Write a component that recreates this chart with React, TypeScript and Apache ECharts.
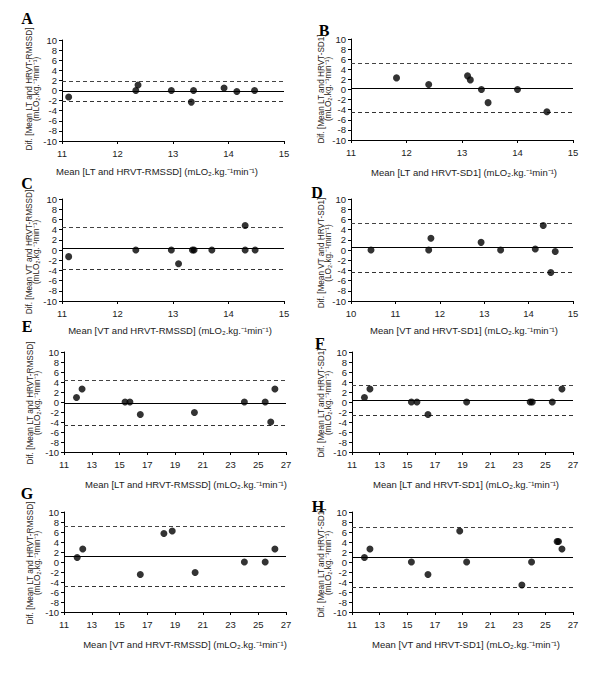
import React, { useEffect, useRef } from 'react';
import * as echarts from 'echarts';

// ---- data ----
const A_X = [11.12, 12.33, 12.37, 12.97, 13.33, 13.37, 13.92, 14.15, 14.47];
const A_Y = [-1.3, 0, 1.1, 0, -2.3, 0, 0.5, -0.2, 0];
const A_LIMITS = [-0.15, 1.8, -2.1]; // mean, upper, lower

const B_X = [11.82, 12.4, 13.1, 13.15, 13.35, 13.47, 14.0, 14.53];
const B_Y = [2.3, 1.0, 2.7, 1.9, 0, -2.6, 0, -4.4];
const B_LIMITS = [0.3, 5.1, -4.5];

const C_X = [11.12, 12.33, 12.97, 13.1, 13.35, 13.38, 13.7, 14.3, 14.3, 14.48];
const C_Y = [-1.3, 0, 0, -2.7, 0, 0, 0, 4.8, 0, 0];
const C_LIMITS = [0.3, 4.4, -3.8];

const D_X = [10.45, 11.75, 11.8, 12.93, 13.37, 14.15, 14.33, 14.5, 14.6];
const D_Y = [0, 0, 2.3, 1.5, 0, 0.2, 4.8, -4.4, -0.3];
const D_LIMITS = [0.45, 5.2, -4.3];

const E_X = [11.9, 12.3, 15.4, 15.75, 16.5, 20.4, 24.0, 25.5, 25.9, 26.2];
const E_Y = [0.9, 2.6, 0, 0, -2.5, -2.1, 0, 0, -4.0, 2.6];
const E_LIMITS = [-0.3, 4.4, -4.6];

const F_X = [11.9, 12.3, 15.3, 15.7, 16.5, 19.3, 23.9, 24.05, 25.5, 26.2];
const F_Y = [0.9, 2.6, 0, 0, -2.5, 0, 0, 0, 0, 2.6];
const F_LIMITS = [0.4, 3.3, -2.6];

const G_X = [11.95, 12.35, 16.5, 18.2, 18.8, 20.45, 24.0, 25.5, 26.2];
const G_Y = [0.9, 2.6, -2.5, 5.7, 6.2, -2.1, 0, 0, 2.6];
const G_LIMITS = [1.2, 7.2, -4.8];

const H_X = [11.9, 12.3, 15.3, 16.5, 18.8, 19.3, 23.3, 24.0, 25.85, 25.95, 26.2];
const H_Y = [0.9, 2.6, 0, -2.5, 6.2, 0, -4.6, 0, 4.1, 4.1, 2.6];
const H_LIMITS = [1.0, 7.0, -5.0];

// axis ranges [min, max, interval]
const X_RANGE_SMALL = [11, 15, 1];
const X_RANGE_D = [10, 15, 1];
const X_RANGE_WIDE = [11, 27, 2];
const Y_RANGE = [-10, 10, 2];

const UNIT = '(mLO\u2082.kg.\u207B\u00B9min\u207B\u00B9)';
const X_TITLES = {
  A: 'Mean [LT and HRVT-RMSSD] ' + UNIT,
  B: 'Mean [LT and HRVT-SD1] ' + UNIT,
  C: 'Mean [VT and HRVT-RMSSD] ' + UNIT,
  D: 'Mean [VT and HRVT-SD1] ' + UNIT,
  E: 'Mean [LT and HRVT-RMSSD] ' + UNIT,
  F: 'Mean [LT and HRVT-SD1] ' + UNIT,
  G: 'Mean [VT and HRVT-RMSSD] ' + UNIT,
  H: 'Mean [VT and HRVT-SD1] ' + UNIT,
};
const Y_TITLES = {
  A: 'Dif. [Mean LT and HRVT-RMSSD]\n' + UNIT,
  B: 'Dif. [Mean LT and HRVT-SD1]\n' + UNIT,
  C: 'Dif. [Mean VT and HRVT-RMSSD]\n' + UNIT,
  D: 'Dif. [Mean VT and HRVT-SD1]\n(LO\u2082.kg.\u207B\u00B9min\u207B\u00B9)',
  E: 'Dif. [Mean LT and HRVT-RMSSD]\n' + UNIT,
  F: 'Dif. [Mean LT and HRVT-SD1]\n' + UNIT,
  G: 'Dif. [Mean LT and HRVT-RMSSD]\n' + UNIT,
  H: 'Dif. [Mean LT and HRVT-SD1]\n' + UNIT,
};

const SANS = '"Liberation Sans", Arial, sans-serif';
const SERIF = '"Liberation Serif", "Times New Roman", serif';

const PANELS = [
  { key: 'A', xs: A_X, ys: A_Y, lim: A_LIMITS, xr: X_RANGE_SMALL, grid: { left: 62, top: 40, width: 222, height: 101 }, label: [27, 18], xt: [157, 171], yt: [33, 89] },
  { key: 'B', xs: B_X, ys: B_Y, lim: B_LIMITS, xr: X_RANGE_SMALL, grid: { left: 351, top: 39, width: 222, height: 101 }, label: [324, 30], xt: [464, 172], yt: [325, 89] },
  { key: 'C', xs: C_X, ys: C_Y, lim: C_LIMITS, xr: X_RANGE_SMALL, grid: { left: 62, top: 199, width: 222, height: 102 }, label: [27, 183], xt: [170, 330], yt: [33, 252] },
  { key: 'D', xs: D_X, ys: D_Y, lim: D_LIMITS, xr: X_RANGE_D, grid: { left: 351, top: 199, width: 222, height: 102 }, label: [317, 192], xt: [464, 330], yt: [325, 253] },
  { key: 'E', xs: E_X, ys: E_Y, lim: E_LIMITS, xr: X_RANGE_WIDE, grid: { left: 64, top: 352, width: 222, height: 100 }, label: [27, 326], xt: [186, 484], yt: [34, 403] },
  { key: 'F', xs: F_X, ys: F_Y, lim: F_LIMITS, xr: X_RANGE_WIDE, grid: { left: 352, top: 352, width: 221, height: 100 }, label: [320, 343], xt: [466, 484], yt: [325, 403] },
  { key: 'G', xs: G_X, ys: G_Y, lim: G_LIMITS, xr: X_RANGE_WIDE, grid: { left: 64, top: 512, width: 222, height: 100 }, label: [27, 493], xt: [185, 644], yt: [34, 563] },
  { key: 'H', xs: H_X, ys: H_Y, lim: H_LIMITS, xr: X_RANGE_WIDE, grid: { left: 352, top: 512, width: 221, height: 100 }, label: [318, 506], xt: [466, 644], yt: [325, 563] },
];

export default function App() {
  const ref = useRef<HTMLDivElement>(null);
  useEffect(() => {
    if (!ref.current) return;
    const chart = echarts.init(ref.current, undefined, { renderer: 'svg' });
    const axisLine = { show: true, onZero: false, lineStyle: { color: '#000', width: 1 } };
    const axisTick = { show: true, inside: false, length: 3, lineStyle: { color: '#000' } };
    const option: any = {
      animation: false,
      backgroundColor: '#fff',
      grid: PANELS.map((p) => ({ ...p.grid, containLabel: false })),
      xAxis: PANELS.map((p, i) => ({
        type: 'value',
        gridIndex: i,
        min: p.xr[0],
        max: p.xr[1],
        interval: p.xr[2],
        axisLine,
        axisTick,
        splitLine: { show: false },
        axisLabel: { color: '#222', fontSize: 9.5, fontFamily: SANS, margin: 7 },
      })),
      yAxis: PANELS.map((p, i) => ({
        type: 'value',
        gridIndex: i,
        min: Y_RANGE[0],
        max: Y_RANGE[1],
        interval: Y_RANGE[2],
        axisLine,
        axisTick,
        splitLine: { show: false },
        axisLabel: { color: '#222', fontSize: 9.5, fontFamily: SANS, margin: 5 },
      })),
      series: PANELS.map((p, i) => ({
        type: 'scatter',
        xAxisIndex: i,
        yAxisIndex: i,
        data: p.xs.map((x, j) => [x, p.ys[j]]),
        symbol: 'circle',
        symbolSize: 7,
        itemStyle: { color: '#000' },
        z: 3,
        markLine: {
          silent: true,
          symbol: 'none',
          label: { show: false },
          z: 2,
          data: [
            { yAxis: p.lim[0], lineStyle: { type: 'solid', color: '#000', width: 1 } },
            { yAxis: p.lim[1], lineStyle: { type: [4, 3], color: '#444', width: 1 } },
            { yAxis: p.lim[2], lineStyle: { type: [4, 3], color: '#333', width: 1 } },
          ],
        },
      })),
      graphic: PANELS.flatMap((p) => [
        {
          type: 'text',
          x: p.label[0],
          y: p.label[1],
          style: { text: p.key, fontFamily: SERIF, fontWeight: 'bold', fontSize: 16, fill: '#000', textAlign: 'center', textVerticalAlign: 'middle' },
        },
        {
          type: 'text',
          x: p.xt[0],
          y: p.xt[1],
          style: { text: (X_TITLES as any)[p.key], fontFamily: SANS, fontSize: 9.5, fill: '#222', textAlign: 'center', textVerticalAlign: 'middle' },
        },
        {
          type: 'text',
          x: p.yt[0],
          y: p.yt[1],
          rotation: Math.PI / 2,
          style: { text: (Y_TITLES as any)[p.key], fontFamily: SANS, fontSize: 8.2, lineHeight: 6.8, fill: '#2a2418', textAlign: 'center', textVerticalAlign: 'middle' },
        },
      ]),
    };
    chart.setOption(option);
    return () => chart.dispose();
  }, []);
  return <div ref={ref} style={{ position: 'absolute', left: 0, top: 0, width: 600, height: 673 }} />;
}
